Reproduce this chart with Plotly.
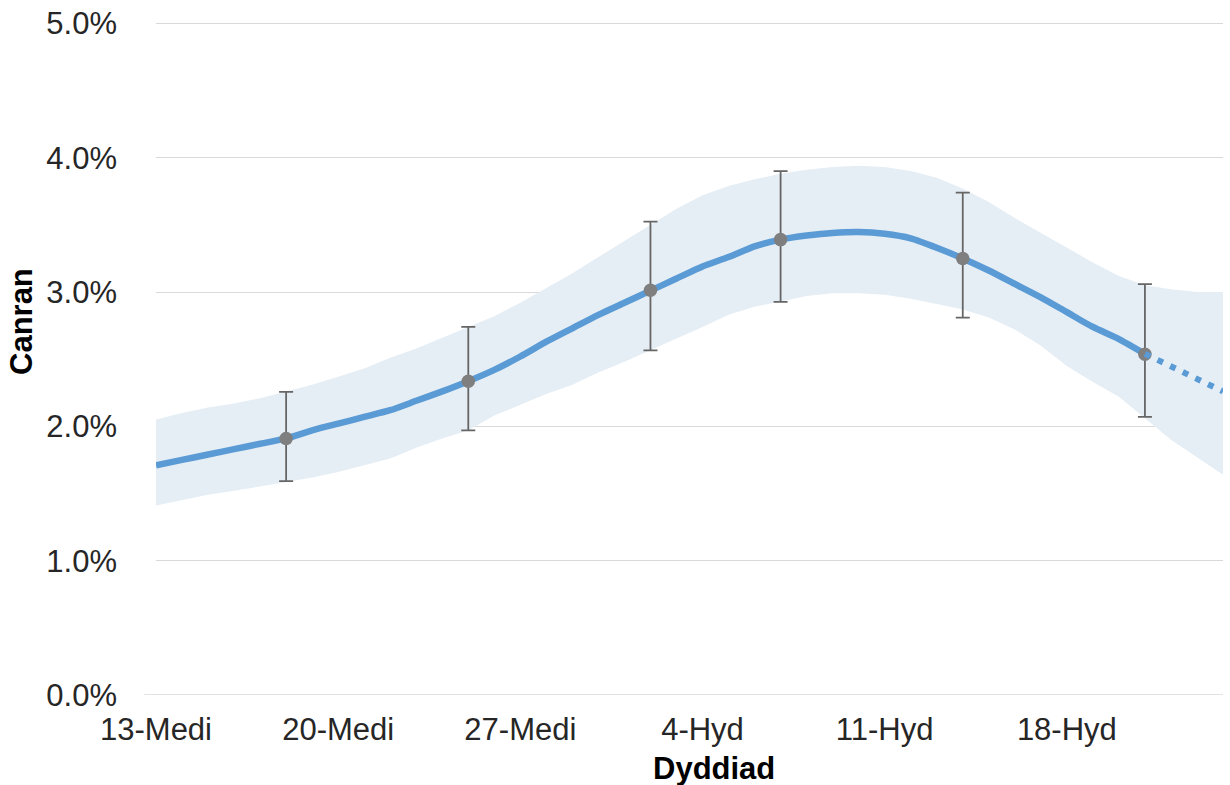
import plotly.graph_objects as go
import pandas as pd

# ---- data ----
start_date = "2020-09-13"
# daily modelled estimate (%), 13 Sep .. 24 Oct
line_values = [1.71, 1.75, 1.79, 1.83, 1.87, 1.91, 1.97, 2.02, 2.07, 2.12,
               2.19, 2.26, 2.336, 2.42, 2.52, 2.63, 2.73, 2.83, 2.92, 3.01,
               3.10, 3.19, 3.26, 3.34, 3.39, 3.42, 3.44, 3.447, 3.434, 3.40,
               3.33, 3.25, 3.16, 3.06, 2.96, 2.85, 2.74, 2.65, 2.54,
               2.45, 2.35, 2.26]
band_upper = [2.05, 2.10, 2.14, 2.17, 2.21, 2.26, 2.31, 2.37, 2.43, 2.51,
              2.58, 2.66, 2.74, 2.82, 2.92, 3.03, 3.14, 3.26, 3.38, 3.50,
              3.62, 3.72, 3.79, 3.84, 3.88, 3.91, 3.93, 3.94, 3.93, 3.90,
              3.85, 3.77, 3.67, 3.55, 3.44, 3.33, 3.22, 3.12, 3.05,
              3.02, 3.00, 3.00]
band_lower = [1.41, 1.45, 1.49, 1.52, 1.55, 1.585, 1.62, 1.66, 1.71, 1.76,
              1.84, 1.91, 1.97, 2.08, 2.16, 2.24, 2.31, 2.40, 2.48, 2.565,
              2.65, 2.74, 2.83, 2.89, 2.93, 2.97, 2.99, 2.99, 2.98, 2.95,
              2.91, 2.87, 2.81, 2.72, 2.60, 2.45, 2.33, 2.22, 2.06,
              1.90, 1.77, 1.64]
solid_count = 39  # days up to 21 Oct drawn solid, rest dotted

# survey point estimates with 95% intervals (%)
point_dates = ["2020-09-18", "2020-09-25", "2020-10-02", "2020-10-07", "2020-10-14", "2020-10-21"]
point_values = [1.91, 2.336, 3.013, 3.39, 3.249, 2.537]
point_upper = [2.257, 2.74, 3.524, 3.90, 3.74, 3.058]
point_lower = [1.592, 1.97, 2.565, 2.926, 2.81, 2.07]

tick_dates = ["2020-09-13", "2020-09-20", "2020-09-27", "2020-10-04", "2020-10-11", "2020-10-18"]
tick_labels = ["13-Medi", "20-Medi", "27-Medi", "4-Hyd", "11-Hyd", "18-Hyd"]
y_ticks = [0, 1, 2, 3, 4, 5]
y_tick_labels = ["0.0%", "1.0%", "2.0%", "3.0%", "4.0%", "5.0%"]

x_title = "Dyddiad"
y_title = "Canran"

# ---- figure ----
dates = list(pd.date_range(start_date, periods=len(line_values), freq="D"))

BLUE = "#5B9BD5"
BAND = "#E6EEF5"
GREY = "#7F7F7F"
TXT = "#262626"
FONT = "Liberation Sans, Arial, sans-serif"

# body margin is removed in the page, so the figure fills the viewport
W, H = 1230, 785
L, R, T, B = 156, 7, 22, 90
plot_w = W - L - R
plot_h = H - T - B
Y_MAX = 5.01

fig = go.Figure()

fig.add_trace(go.Scatter(x=dates, y=band_lower, mode="lines",
                         line=dict(width=0, color=BAND), hoverinfo="skip",
                         showlegend=False))
fig.add_trace(go.Scatter(x=dates, y=band_upper, mode="lines",
                         line=dict(width=0, color=BAND), fill="tonexty",
                         fillcolor=BAND, hoverinfo="skip", showlegend=False))

fig.add_trace(go.Scatter(x=dates[:solid_count], y=line_values[:solid_count],
                         mode="lines", line=dict(color=BLUE, width=6.5, shape="spline", smoothing=0.6),
                         showlegend=False))

err_plus = [u - v for u, v in zip(point_upper, point_values)]
err_minus = [v - l for v, l in zip(point_values, point_lower)]
fig.add_trace(go.Scatter(x=pd.to_datetime(point_dates), y=point_values, mode="markers",
                         marker=dict(color=GREY, size=13.5),
                         error_y=dict(type="data", symmetric=False, array=err_plus,
                                      arrayminus=err_minus, color="#666666",
                                      thickness=1.8, width=7),
                         showlegend=False))

fig.add_trace(go.Scatter(x=dates[solid_count - 1:], y=line_values[solid_count - 1:],
                         mode="lines", line=dict(color=BLUE, width=6, dash="6px,8px"),
                         showlegend=False))

# horizontal axis line (extends slightly left of plot like original)
fig.add_shape(type="line", xref="paper", yref="y", x0=-0.011, x1=1, y0=0, y1=0,
              line=dict(color="#D9D9D9", width=1.5), layer="below")

fig.update_layout(
    width=W, height=H,
    margin=dict(l=L, r=R, t=T, b=B),
    paper_bgcolor="white", plot_bgcolor="white",
    font=dict(family=FONT, size=31, color=TXT),
    xaxis=dict(type="date", automargin=False,
               range=[dates[0], dates[-1]],
               tickvals=pd.to_datetime(tick_dates), ticktext=tick_labels,
               showgrid=False, zeroline=False, showline=False,
               ticks="", ticklabelstandoff=13,
               tickfont=dict(size=31, color=TXT)),
    yaxis=dict(range=[0, Y_MAX], tickvals=y_ticks, ticktext=y_tick_labels,
               automargin=False,
               showgrid=True, gridcolor="#D9D9D9", gridwidth=1,
               zeroline=False, showline=False, ticks="",
               ticklabelstandoff=38,
               tickfont=dict(size=31, color=TXT)),
    annotations=[
        dict(text="<b>" + x_title + "</b>", xref="paper", yref="paper",
             x=(714 - L) / plot_w, y=-(768 - (T + plot_h)) / plot_h,
             xanchor="center", yanchor="middle",
             showarrow=False, font=dict(size=31, color="#000000", family=FONT)),
        dict(text="<b>" + y_title + "</b>", xref="paper", yref="paper",
             x=(21 - L) / plot_w, y=((T + plot_h) - 322) / plot_h,
             xanchor="center", yanchor="middle",
             textangle=-90, showarrow=False,
             font=dict(size=31, color="#000000", family=FONT)),
    ],
)

fig.write_html("out.html",
               config={"displayModeBar": False},
               post_script="document.body.style.margin='0';document.body.style.padding='0';")
